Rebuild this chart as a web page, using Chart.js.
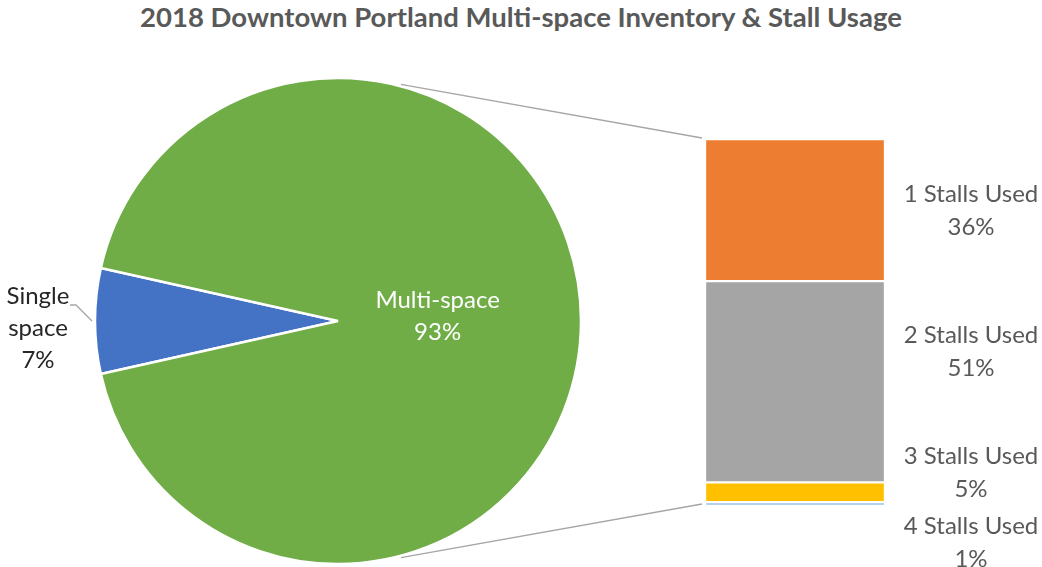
<!DOCTYPE html>
<html>
<head>
<meta charset="utf-8">
<script src="https://cdn.jsdelivr.net/npm/chart.js@4.4.1/dist/chart.umd.min.js"></script>
<style>
  html, body { margin: 0; padding: 0; background: #fff; }
  #wrap { position: relative; width: 1042px; height: 567px; overflow: hidden; }
  #title {
    position: absolute; left: 0; top: 0; width: 1042px; text-align: center;
    font: bold 27.5px Lato, "Open Sans", sans-serif; color: #595959;
  }
  canvas { position: absolute; left: 0; top: 0; }
</style>
</head>
<body>
<div id="wrap">
  <div id="title">2018 Downtown Portland Multi-space Inventory &amp; Stall Usage</div>
  <canvas id="pieChart" width="1042" height="567"></canvas>
  <canvas id="barChart" width="1042" height="567"></canvas>
</div>
<script>
const pieLabels = ['Single space', 'Multi-space'];
const pieValues = [7, 93];
const pieColors = ['#4472C4', '#70AD47'];

const stallLabels = ['1 Stalls Used', '2 Stalls Used', '3 Stalls Used', '4 Stalls Used'];
const stallValues = [36, 51, 5, 1];
const stallColors = ['#ED7D31', '#A5A5A5', '#FFC000', '#9DC3E6'];

const labelFont = '24px Lato, "Open Sans", sans-serif';
const pieTotal = pieValues.reduce((a, b) => a + b, 0);
const stallTotal = stallValues.reduce((a, b) => a + b, 0);

// first slice is centred on the left side (270 deg from the top)
const pieRotation = 270 - (pieValues[0] / pieTotal) * 180;

const pieLabelPlugin = {
    id: 'pieLabels',
    afterDatasetsDraw(chart) {
        const ctx = chart.ctx;
        const arcs = chart.getDatasetMeta(0).data;
        ctx.save();
        ctx.font = labelFont;
        ctx.textAlign = 'center';
        ctx.textBaseline = 'middle';

        // multi-space: inside, white
        const big = arcs[1];
        let mid = (big.startAngle + big.endAngle) / 2;
        let r = big.outerRadius * 0.41;
        let cx = big.x + Math.cos(mid) * r;
        let cy = big.y + Math.sin(mid) * r - 5;
        ctx.fillStyle = '#ffffff';
        ctx.fillText(pieLabels[1], cx, cy - 16);
        ctx.fillText(pieValues[1] + '%', cx, cy + 16);

        // single space: outside with leader line
        const small = arcs[0];
        mid = (small.startAngle + small.endAngle) / 2;
        const sx = small.x + Math.cos(mid) * (small.outerRadius + 3);
        const sy = small.y + Math.sin(mid) * (small.outerRadius + 3);
        ctx.strokeStyle = '#A6A6A6';
        ctx.lineWidth = 1.3;
        ctx.beginPath();
        ctx.moveTo(sx, sy);
        ctx.lineTo(sx - 16, sy - 16);
        ctx.lineTo(sx - 22, sy - 16);
        ctx.stroke();
        const words = pieLabels[0].split(' ');
        ctx.fillStyle = '#262626';
        const lx = sx - 54;
        const ly = sy + 7;
        ctx.fillText(words[0], lx, ly - 32);
        ctx.fillText(words[1], lx, ly);
        ctx.fillText(pieValues[0] + '%', lx, ly + 32);
        ctx.restore();
    }
};

const pieChart = new Chart(document.getElementById('pieChart'), {
    type: 'pie',
    data: {
        labels: pieLabels,
        datasets: [{
            data: pieValues,
            backgroundColor: pieColors,
            borderColor: '#ffffff',
            borderWidth: 2.5
        }]
    },
    options: {
        responsive: false,
        animation: false,
        rotation: pieRotation,
        radius: 243,
        layout: { padding: { left: 95, right: 461, top: 78, bottom: 3 } },
        plugins: { legend: { display: false }, tooltip: { enabled: false } }
    },
    plugins: [pieLabelPlugin]
});

const barExtrasPlugin = {
    id: 'barExtras',
    afterDatasetsDraw(chart) {
        const ctx = chart.ctx;
        ctx.save();

        // connector lines from the pie to the stacked bar
        const arc = pieChart.getDatasetMeta(0).data[1];
        const first = chart.getDatasetMeta(0).data[0];
        const last = chart.getDatasetMeta(stallValues.length - 1).data[0];
        const left = first.x - first.width / 2 - 3;
        const top = Math.min(first.y, first.base) - 1;
        const bottom = Math.max(last.y, last.base) - 2;
        const a = 75 * Math.PI / 180;
        ctx.strokeStyle = '#A6A6A6';
        ctx.lineWidth = 1.3;
        ctx.beginPath();
        ctx.moveTo(arc.x + Math.cos(a) * arc.outerRadius, arc.y - Math.sin(a) * arc.outerRadius - 2);
        ctx.lineTo(left, top);
        ctx.moveTo(arc.x + Math.cos(a) * arc.outerRadius, arc.y + Math.sin(a) * arc.outerRadius + 2);
        ctx.lineTo(left, bottom);
        ctx.stroke();

        // labels to the right of each segment (nudged apart like the original)
        const nudge = [0, -30, -20, 38];
        ctx.font = labelFont;
        ctx.textAlign = 'center';
        ctx.textBaseline = 'middle';
        ctx.fillStyle = '#595959';
        stallValues.forEach((v, i) => {
            const bar = chart.getDatasetMeta(i).data[0];
            const x = bar.x + bar.width / 2 + 86;
            const y = (bar.y + bar.base) / 2 + nudge[i];
            ctx.fillText(stallLabels[i], x, y - 16);
            ctx.fillText(v + '%', x, y + 17);
        });
        ctx.restore();
    }
};

new Chart(document.getElementById('barChart'), {
    type: 'bar',
    data: {
        labels: ['Multi-space'],
        datasets: stallLabels.map((label, i) => ({
            label: label,
            data: [stallValues[i]],
            backgroundColor: stallColors[i],
            borderColor: '#ffffff',
            borderWidth: 1.5,
            borderSkipped: false,
            barPercentage: 1,
            categoryPercentage: 1
        }))
    },
    options: {
        responsive: false,
        animation: false,
        layout: { padding: { left: 705, right: 157, top: 139, bottom: 61 } },
        scales: {
            x: { display: false, stacked: true },
            y: { display: false, stacked: true, min: 0, max: stallTotal, reverse: true }
        },
        plugins: { legend: { display: false }, tooltip: { enabled: false } }
    },
    plugins: [barExtrasPlugin]
});
</script>
</body>
</html>
